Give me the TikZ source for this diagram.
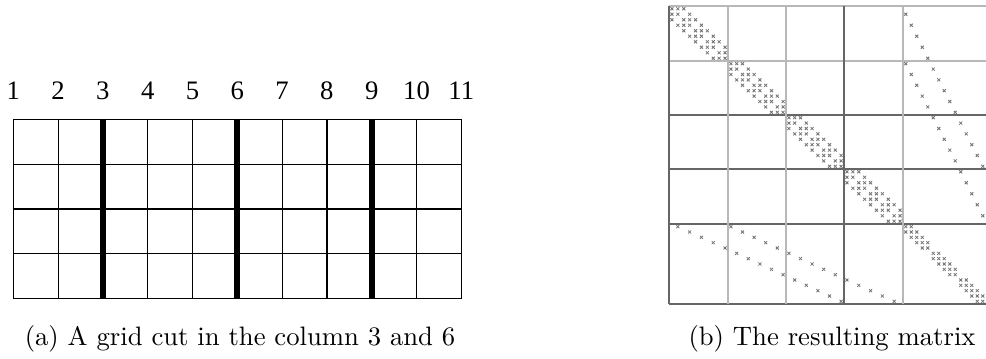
\documentclass[tikz,border=0pt]{standalone}
\usepackage{fontspec}
\newfontfamily\tms{Liberation Serif}
\tikzset{
  thingrid/.style={line width=0.45pt, black},
  cutline/.style={line width=2.25pt, black},
  mdark/.style={line width=0.4pt, black!60},
  mlight/.style={line width=0.8pt, black!28},
  xmark/.style={line width=0.3pt, black!55},
  numlab/.style={font=\tms\fontsize{10}{12}\selectfont, anchor=base, inner sep=0pt},
  caplab/.style={anchor=base, inner sep=0pt},
}
\def\Rb{{6,61,115,169,224,304}}
\def\Cb{{669,728,786,844,903,985.5}}
\def\Sz{{10,10,10,10,15}}
\newcommand\mk[2]{%
  \pgfmathtruncatemacro\mbi{min(4,floor((#1-1)/10))}%
  \pgfmathtruncatemacro\mbj{min(4,floor((#2-1)/10))}%
  \pgfmathtruncatemacro\mbin{\mbi+1}%
  \pgfmathtruncatemacro\mbjn{\mbj+1}%
  \pgfmathsetmacro\myy{\Rb[\mbi]+(#1-10*\mbi-0.5)*(\Rb[\mbin]-\Rb[\mbi])/\Sz[\mbi]}%
  \pgfmathsetmacro\mxx{\Cb[\mbj]+(#2-10*\mbj-0.5)*(\Cb[\mbjn]-\Cb[\mbj])/\Sz[\mbj]}%
  \draw[xmark] (\mxx-1.5,\myy-1.5) -- (\mxx+1.5,\myy+1.5) (\mxx-1.5,\myy+1.5) -- (\mxx+1.5,\myy-1.5);%
}
\newcommand\vid[3]{\pgfmathtruncatemacro#1{(mod(#3,3)==0) ? (40+5*(#3/3-1)+#2) : (10*floor(#3/3)+2*(#2-1)+#3-3*floor(#3/3))}}
\begin{document}
\begin{tikzpicture}[x=0.375pt,y=-0.375pt]
\useasboundingbox (0,0) rectangle (986,358);
% ---- left: grid ----
\foreach \i in {0,...,10} {\draw[thingrid] ({13.3+44.8*\i},119.3) -- ({13.3+44.8*\i},298.5);}
\foreach \j in {0,...,4} {\draw[thingrid] (13.3,{119.3+44.8*\j}) -- (461.3,{119.3+44.8*\j});}
\foreach \i in {2,5,8} {\draw[cutline] ({13.3+44.8*\i},119.3) -- ({13.3+44.8*\i},298.5);}
\foreach \i in {1,...,11} {\node[numlab] (n\i) at ({13.3+44.8*(\i-1)},99) {\i};}
\node[caplab] (capa) at (240,345) {(a) A grid cut in the column 3 and 6};
% ---- right: matrix ----
\foreach \r in {1,...,5}{\foreach \g in {1,...,11}{%
  \vid\vA\r\g
  \mk\vA\vA
  \ifnum\g<11 \pgfmathtruncatemacro\gn{\g+1}\vid\vB\r\gn \mk\vA\vB \mk\vB\vA\fi
  \ifnum\r<5 \pgfmathtruncatemacro\rn{\r+1}\vid\vB\rn\g \mk\vA\vB \mk\vB\vA\fi
}}
\draw[mlight] (669,6) -- (990,6);
\draw[mlight] (669,61) -- (990,61);
\foreach \y in {115,169,224,304} {\draw[mdark] (669,\y) -- (990,\y);}
\foreach \x in {669,844} {\draw[mdark] (\x,6) -- (\x,304);}
\foreach \x in {728,786,903} {\draw[mlight] (\x,6) -- (\x,304);}
\node[caplab] (capb) at (832,345) {(b) The resulting matrix};
\end{tikzpicture}
\end{document}
